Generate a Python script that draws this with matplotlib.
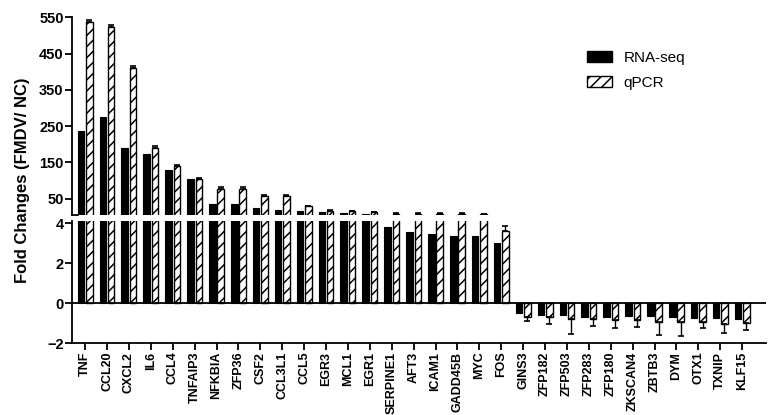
import numpy as np
import matplotlib
matplotlib.use("Agg")
import matplotlib.pyplot as plt
from matplotlib.patches import Patch

plt.rcParams['font.family'] = ['Liberation Sans', 'DejaVu Sans']
plt.rcParams['hatch.linewidth'] = 1.1

genes = ['TNF', 'CCL20', 'CXCL2', 'IL6', 'CCL4', 'TNFAIP3', 'NFKBIA', 'ZFP36', 'CSF2',
         'CCL3L1', 'CCL5', 'EGR3', 'MCL1', 'EGR1', 'SERPINE1', 'AFT3', 'ICAM1', 'GADD45B',
         'MYC', 'FOS', 'GINS3', 'ZFP182', 'ZFP503', 'ZFP283', 'ZFP180', 'ZKSCAN4', 'ZBTB3',
         'DYM', 'OTX1', 'TXNIP', 'KLF15']

# RNA-seq fold changes
rna = [238, 276, 190, 172, 130, 103, 36, 36, 23, 20, 15, 12, 10, 6.5, 3.81, 3.55, 3.49,
       3.35, 3.35, 3.0, -0.5, -0.58, -0.58, -0.68, -0.68, -0.63, -0.63, -0.68, -0.72,
       -0.75, -0.8]

# qPCR fold changes and error
qpcr = [538, 524, 410, 190, 140, 104, 78, 78, 57, 57, 29, 16, 15, 12, 9, 9, 9, 7.5, 7,
        3.64, -0.68, -0.7, -0.8, -0.8, -0.85, -0.85, -0.95, -0.95, -0.95, -1.05, -1.0]
qpcr_err = [5, 5, 5, 4, 4, 3, 3, 3, 3, 3, 2, 2, 2, 2, 2, 2, 2, 2, 2,
            0.22, 0.2, 0.33, 0.72, 0.33, 0.4, 0.33, 0.62, 0.67, 0.28, 0.42, 0.33]

x = np.arange(len(genes))
rna = np.array(rna)
qpcr = np.array(qpcr)
qpcr_err = np.array(qpcr_err)
up = np.where(qpcr > 0, qpcr_err, 0)
down = np.where(qpcr < 0, qpcr_err, 0)

fig = plt.figure(figsize=(7.74, 4.15), dpi=100)
ax_top = fig.add_axes([0.093, 0.482, 0.897, 0.476])
ax_bot = fig.add_axes([0.093, 0.1727, 0.897, 0.2936])

top_lo = 5
w = 0.3

# upper part: only bars that reach it
rt = rna > top_lo
qt = qpcr > top_lo
ax_top.bar(x[rt] - 0.19, rna[rt], w, color='black', edgecolor='black', linewidth=0.8)
ax_top.bar(x[qt] + 0.19, qpcr[qt], w, color='white', edgecolor='black', linewidth=1.0,
           hatch='///')
ax_top.errorbar(x[qt] + 0.19, qpcr[qt], yerr=[down[qt], up[qt]], fmt='none', ecolor='black',
                elinewidth=1.0, capsize=2, capthick=1.2)

# lower part
ax_bot.bar(x - 0.19, rna, w, color='black', edgecolor='black', linewidth=0.8)
ax_bot.bar(x + 0.19, qpcr, w, color='white', edgecolor='black', linewidth=1.0, hatch='///')
m = qpcr < 4
ax_bot.errorbar(x[m] + 0.19, qpcr[m], yerr=[down[m], up[m]], fmt='none', ecolor='black',
                elinewidth=1.0, capsize=2, capthick=1.2)

for ax in (ax_top, ax_bot):
    ax.set_xlim(-0.6, 31.1)
    ax.spines['top'].set_visible(False)
    ax.spines['right'].set_visible(False)
    ax.spines['left'].set_linewidth(1.3)
    ax.tick_params(axis='y', direction='out', length=5, width=1.3, labelsize=10.5, pad=1)

ax_top.set_ylim(top_lo, 550)
ax_top.set_yticks([50, 150, 250, 350, 450, 550])
ax_top.spines['bottom'].set_visible(False)
ax_top.set_xticks([])
ax_top.plot([0, 0.009], [0, 0], transform=ax_top.transAxes, color='black', lw=1.3, clip_on=False)
for lab in ax_top.get_yticklabels():
    lab.set_fontweight('bold')

ax_bot.set_ylim(-2, 4.1)
ax_bot.set_yticks([-2, 0, 2, 4])
ax_bot.axhline(0, color='black', lw=1.3)
ax_bot.spines['bottom'].set_linewidth(1.3)
ax_bot.spines['bottom'].set_position(('data', -2))
ax_bot.set_xticks(x)
ax_bot.set_xticklabels(genes, rotation=90, fontsize=9, fontweight='bold')
ax_bot.tick_params(axis='x', direction='out', length=5, width=1.3, pad=1)
for lab in ax_bot.get_yticklabels():
    lab.set_fontweight('bold')

fig.text(0.029, 1 - 180 / 415, 'Fold Changes (FMDV/ NC)', rotation=90, va='center',
         ha='center', fontsize=12, fontweight='bold')

handles = [Patch(facecolor='black', edgecolor='black', label='RNA-seq'),
           Patch(facecolor='white', edgecolor='black', hatch='///', label='qPCR')]
fig.legend(handles=handles, loc='upper left', bbox_to_anchor=(0.758, 0.878),
           frameon=False, fontsize=11, handlelength=1.65, handleheight=0.7,
           labelspacing=0.75, borderpad=0, borderaxespad=0, handletextpad=0.75)

fig.savefig('out.png', dpi=100)
